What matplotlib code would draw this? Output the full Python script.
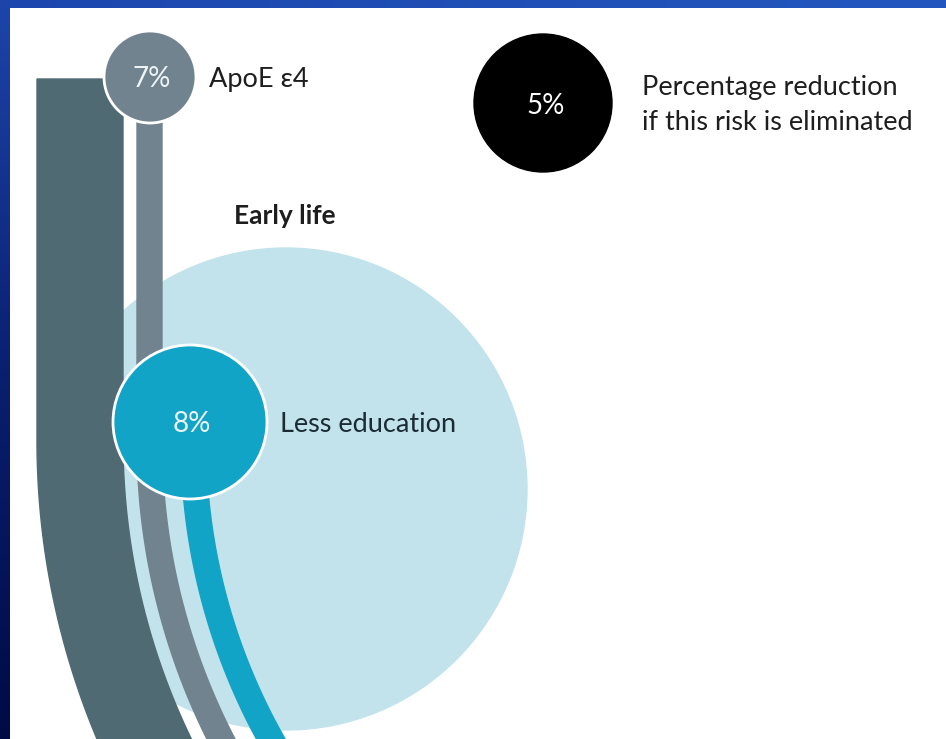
import numpy as np
import matplotlib.pyplot as plt
from matplotlib.patches import Circle, Polygon, Rectangle
from matplotlib.colors import LinearSegmentedColormap

# risk factors shown in this panel
risk_labels = ["ApoE \u03b54", "Less education"]
risk_pct = [7, 8]
group_label = "Early life"
legend_pct = 5
legend_text = "Percentage reduction\nif this risk is eliminated"

plt.rcParams["font.family"] = ["Lato", "DejaVu Sans"]

W, H = 946, 739
fig = plt.figure(figsize=(W / 100, H / 100), dpi=100)
ax = fig.add_axes([0, 0, 1, 1])
ax.set_xlim(0, W)
ax.set_ylim(H, 0)
ax.set_aspect("equal")
ax.axis("off")

# slide frame: blue top bar and dark gradient left bar
top_cmap = LinearSegmentedColormap.from_list("top", ["#1c46ad", "#2357bf"])
ax.imshow(np.linspace(0, 1, 256).reshape(1, -1), cmap=top_cmap, aspect="auto",
          extent=(0, W, 8, 0), zorder=10)
frame_cmap = LinearSegmentedColormap.from_list("frame", ["#1d45aa", "#0a1f70", "#000b46"])
ax.imshow(np.linspace(0, 1, 256).reshape(-1, 1), cmap=frame_cmap, aspect="auto",
          extent=(0, 9, H, 0), zorder=10)

# big light blue "early life" disc
ax.add_patch(Circle((286, 489), 241, color="#c3e3ec", zorder=1))

# bands run straight down, then bend to the right around one centre
bend_cx, bend_y = 807, 441


def band(x_left, x_right, y_top, y_bottom=760):
    ys = np.linspace(y_top, y_bottom, 300)
    t = np.clip(ys - bend_y, 0, None)
    left = bend_cx - np.sqrt((bend_cx - x_left) ** 2 - t ** 2)
    right = bend_cx - np.sqrt((bend_cx - x_right) ** 2 - t ** 2)
    xs = np.concatenate([left, right[::-1]])
    yy = np.concatenate([ys, ys[::-1]])
    return np.column_stack([xs, yy])


dark = "#506a74"
grey = "#71838e"
teal = "#12a4c7"

ax.add_patch(Polygon(band(37, 123, 79), closed=True, color=dark, zorder=2))
ax.add_patch(Polygon(band(137, 162, 110), closed=True, color=grey, zorder=2))
ax.add_patch(Polygon(band(181, 206, 480), closed=True, color=teal, zorder=2))

# risk circles
circles = [((150, 77), 46, grey), ((190, 422), 77, teal)]
for (center, r, col), pct in zip(circles, risk_pct):
    ax.add_patch(Circle(center, r, facecolor=col, edgecolor="white", lw=2, zorder=3))
    ax.text(center[0] + 2, center[1] + 2, f"{pct}%", color="#eef4f6", fontsize=20,
            ha="center", va="center", zorder=4)

ax.text(209, 80, risk_labels[0], color="#1e1e1e", fontsize=19.5, ha="left", va="center")
ax.text(280, 425, risk_labels[1], color="#1b2b33", fontsize=19.5, ha="left", va="center",
        zorder=4)
ax.text(234, 216, group_label, color="#1e1e1e", fontsize=19, fontweight="bold",
        ha="left", va="center")

# legend circle
ax.add_patch(Circle((543, 103), 69, color="black", zorder=3))
ax.text(546, 106, f"{legend_pct}%", color="white", fontsize=20, ha="center", va="center",
        zorder=4)
ax.text(642, 105, legend_text, color="#1e1e1e", fontsize=19.5, ha="left", va="center",
        linespacing=1.5)

fig.savefig("out.png", dpi=100)
plt.close(fig)
